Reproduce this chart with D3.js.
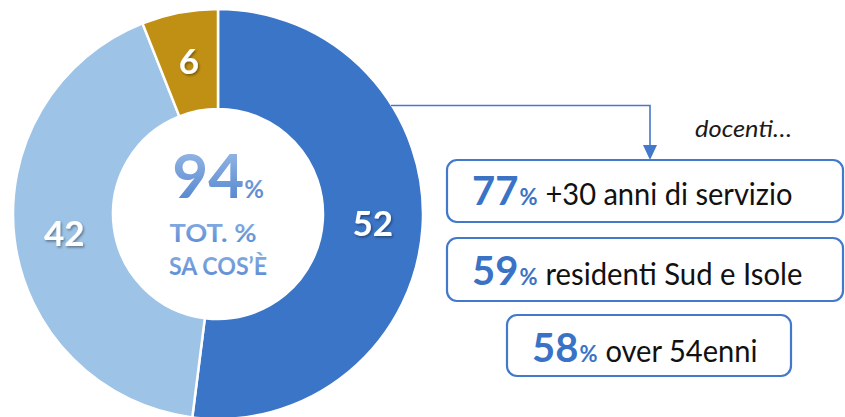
<!DOCTYPE html>
<html><head><meta charset="utf-8">
<script src="https://cdn.jsdelivr.net/npm/d3@7"></script>
<style>body{margin:0;background:#fff}svg{display:block}</style>
</head><body>
<svg id="c" width="845" height="417"></svg>
<script>
// ---- data ----
const categories = ["sa bene cos'è", "ne ha un'idea", "non sa cos'è"];
const values = [52, 42, 6];
const colors = ["#3B75C7", "#9DC3E6", "#BF9013"];
const totalValue = 94;
const totalLines = ["TOT. %", "SA COS’È"];
const calloutTitle = "docenti…";
const highlightValues = [77, 59, 58];
const highlightTexts = ["+30 anni di servizio", "residenti Sud e Isole", "over 54enni"];

// ---- layout ----
const svg = d3.select("#c");
const cx = 218, cy = 214, rOut = 205, rIn = 105;
const FONT = "Lato, 'Open Sans', sans-serif";
const BLUE = "#3A73C6", LINE = "#4379CB";

const defs = svg.append("defs");
const sh = defs.append("filter").attr("id", "sh").attr("x", "-30%").attr("y", "-30%").attr("width", "160%").attr("height", "160%");
sh.append("feDropShadow").attr("dx", 1.3).attr("dy", 1.6).attr("stdDeviation", 1.1)
  .attr("flood-color", "#000").attr("flood-opacity", 0.38);
const g1 = defs.append("linearGradient").attr("id", "gr").attr("x1", 0).attr("y1", 0).attr("x2", 0).attr("y2", 1);
g1.append("stop").attr("offset", "0%").attr("stop-color", "#A3C2EA");
g1.append("stop").attr("offset", "100%").attr("stop-color", "#4A7ECB");
const g2 = defs.append("linearGradient").attr("id", "gr2").attr("x1", 0).attr("y1", 0).attr("x2", 0).attr("y2", 1);
g2.append("stop").attr("offset", "0%").attr("stop-color", "#8AB0E3");
g2.append("stop").attr("offset", "100%").attr("stop-color", "#5A8AD2");

const pie = d3.pie().sort(null).value(d => d);
const arcs = pie(values);
const arc = d3.arc().innerRadius(rIn).outerRadius(rOut);
const labelArc = d3.arc().innerRadius((rIn + rOut) / 2).outerRadius((rIn + rOut) / 2);

const gp = svg.append("g").attr("transform", `translate(${cx},${cy})`);
gp.selectAll("path.sl").data(arcs).join("path").attr("class", "sl")
  .attr("d", arc).attr("fill", (d, i) => colors[i])
  .attr("stroke", "#fff").attr("stroke-width", 2.5).attr("stroke-linejoin", "miter");

gp.selectAll("text.lb").data(arcs).join("text").attr("class", "lb")
  .attr("transform", d => `translate(${labelArc.centroid(d)})`)
  .attr("text-anchor", "middle").attr("dy", "0.36em")
  .attr("font-family", FONT).attr("font-weight", 700).attr("font-size", 35)
  .attr("fill", "#fff").attr("filter", "url(#sh)")
  .text(d => d.data);

// center
const ct = gp.append("text").attr("text-anchor", "middle").attr("y", -16)
  .attr("font-family", FONT).attr("font-weight", 700).attr("fill", "url(#gr)");
ct.append("tspan").attr("font-size", 62).text(totalValue);
ct.append("tspan").attr("font-size", 24).text("%");
const lineW = [87, 98];
totalLines.forEach((t, i) => {
  gp.append("text").attr("text-anchor", "middle").attr("x", i ? 0 : -5).attr("y", 28 + i * 33)
    .attr("font-family", FONT).attr("font-weight", 700).attr("font-size", 24)
    .attr("textLength", lineW[i]).attr("lengthAdjust", "spacingAndGlyphs")
    .attr("fill", "url(#gr2)").text(t);
});

// connector
svg.append("path").attr("d", "M391,105.5H650V147").attr("fill", "none")
  .attr("stroke", LINE).attr("stroke-width", 1.6);
svg.append("path").attr("d", "M643,145L657,145L650,160Z").attr("fill", LINE);

svg.append("text").attr("x", 695).attr("y", 137).attr("font-family", FONT)
  .attr("font-style", "italic").attr("font-size", 24).attr("fill", "#1a1a1a")
  .attr("textLength", 97).attr("lengthAdjust", "spacingAndGlyphs").text(calloutTitle);

// boxes
const boxes = [
  {x: 447, y: 160, w: 396, h: 62, tx: 472, base: 205, tw: 247},
  {x: 447, y: 238, w: 396, h: 63, tx: 472, base: 285, tw: 257},
  {x: 507, y: 315, w: 284, h: 61, tx: 532, base: 362, tw: 152}
];
boxes.forEach((b, i) => {
  svg.append("rect").attr("x", b.x).attr("y", b.y).attr("width", b.w).attr("height", b.h)
    .attr("rx", 10).attr("fill", "#fff").attr("stroke", LINE).attr("stroke-width", 2.2);
  const t = svg.append("text").attr("x", b.tx).attr("y", b.base).attr("font-family", FONT);
  t.append("tspan").attr("font-weight", 700).attr("font-size", 40).attr("fill", BLUE).text(highlightValues[i]);
  t.append("tspan").attr("font-weight", 700).attr("font-size", 22).attr("fill", BLUE).attr("dx", 1).text("%");
  const x0 = t.node().getComputedTextLength();
  svg.append("text").attr("x", b.tx + x0 + 9).attr("y", b.base).attr("font-family", FONT)
    .attr("font-size", 31).attr("fill", "#111")
    .attr("textLength", b.tw).attr("lengthAdjust", "spacingAndGlyphs").text(highlightTexts[i]);
});
</script>
</body></html>
